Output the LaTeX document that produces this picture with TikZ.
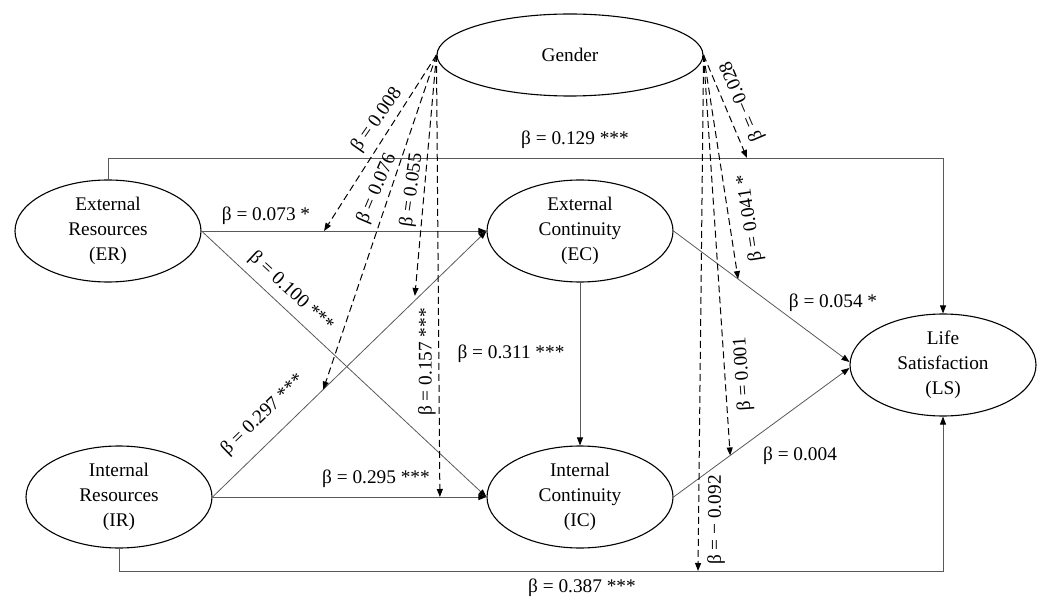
\documentclass[tikz,border=0pt]{standalone}
\usepackage{fontspec}
\setmainfont{Liberation Serif}
\usetikzlibrary{arrows.meta,shapes.geometric,calc}
\begin{document}
\begin{tikzpicture}[x=1pt,y=-1pt,
  every node/.style={font=\fontsize{19.3}{25}\selectfont},
  latent/.style={ellipse,draw=black,line width=1.1pt,minimum width=186pt,minimum height=102pt,inner sep=0pt,align=center},
  conn/.style={draw=black!65,line width=0.8pt,-{Triangle[length=8pt,width=6pt,color=black]}},
  modarrow/.style={draw=black,line width=1pt,dash pattern=on 7pt off 4pt,-{Triangle[length=8pt,width=6pt]}},
  lab/.style={inner sep=1pt}
]
\useasboundingbox (0,0) rectangle (1043,601);

% latent variables
\node[latent,minimum width=266pt,minimum height=82pt] (G) at (570,55) {Gender};
\node[latent] (ER) at (108,231) {External\\Resources\\(ER)};
\node[latent] (EC) at (580,231) {External\\Continuity\\(EC)};
\node[latent] (IR) at (119,497) {Internal\\Resources\\(IR)};
\node[latent] (IC) at (580,497) {Internal\\Continuity\\(IC)};
\node[latent] (LS) at (943,365) {Life\\Satisfaction\\(LS)};

\coordinate (ty) at (0,158);
\coordinate (by) at (0,571);

% structural paths
\draw[conn] (ER.north) -- (ER.north |- ty) -| (LS.north);
\draw[conn] (IR.south) -- (IR.south |- by) -| (LS.south);
\draw[conn] (ER.east) -- (EC.west);
\draw[conn] (ER.east) -- (IC.west);
\draw[conn] (IR.east) -- (EC.west);
\draw[conn] (IR.east) -- (IC.west);
\draw[conn] (EC.south) -- (IC.north);
\draw[conn] (EC.east) -- ([yshift=3pt]LS.west);
\draw[conn] (IC.east) -- ([yshift=-3pt]LS.west);

% moderation targets
\coordinate (m1) at ($(ER.east)!0.43!(EC.west)$);
\coordinate (m2) at ($(IR.east)!0.404!(EC.west)$);
\coordinate (m3) at ($(IR.east)!0.737!(EC.west)$);
\coordinate (m4) at ($(IR.east)!0.83!(IC.west)$);
\coordinate (m5) at (747,158);
\coordinate (m6) at ($(EC.east)!0.367!([yshift=3pt]LS.west)$);
\coordinate (m7) at ($(IC.east)!0.322!([yshift=-3pt]LS.west)$);
\coordinate (m8) at (698,571);

\draw[modarrow] (G.west) -- (m1);
\draw[modarrow] (G.west) -- (m2);
\draw[modarrow,shorten >=5pt] (G.west) -- (m3);
\draw[modarrow] (G.west) -- (m4);
\draw[modarrow] (G.east) -- (m5);
\draw[modarrow] (G.east) -- (m6);
\draw[modarrow] (G.east) -- (m7);
\draw[modarrow] (G.east) -- (m8);

% path labels
\node[lab] (l129) at (575,140) {β = 0.129 ***};
\node[lab] (l073) at (266,216) {β = 0.073 *};
\node[lab,rotate=-42.8] (l100) at (291,292) {β = 0.100 ***};
\node[lab,rotate=44] (l297) at (263,415) {β = 0.297 ***};
\node[lab] (l295) at (376,479) {β = 0.295 ***};
\node[lab] (l311) at (511,354) {β = 0.311 ***};
\node[lab] (l054) at (833,303) {β = 0.054 *};
\node[lab] (l004) at (800,456) {β = 0.004};
\node[lab] (l387) at (582,588) {β = 0.387 ***};

% moderation labels
\node[lab,rotate=55] (l008) at (377,120) {β = 0.008};
\node[lab,rotate=67] (l076) at (377,189) {β = 0.076};
\node[lab,rotate=82] (l055) at (412,190) {β = 0.055};
\node[lab,rotate=90] (l157) at (427,362) {β = 0.157 ***};
\node[lab,rotate=113] (l028) at (742,101) {β = −0.028};
\node[lab,rotate=99] (l041) at (750,218) {β = 0.041 *};
\node[lab,rotate=94] (l001) at (743,374) {β = 0.001};
\node[lab,rotate=90] (l092) at (716,520) {β = − 0.092};
\end{tikzpicture}
\end{document}
